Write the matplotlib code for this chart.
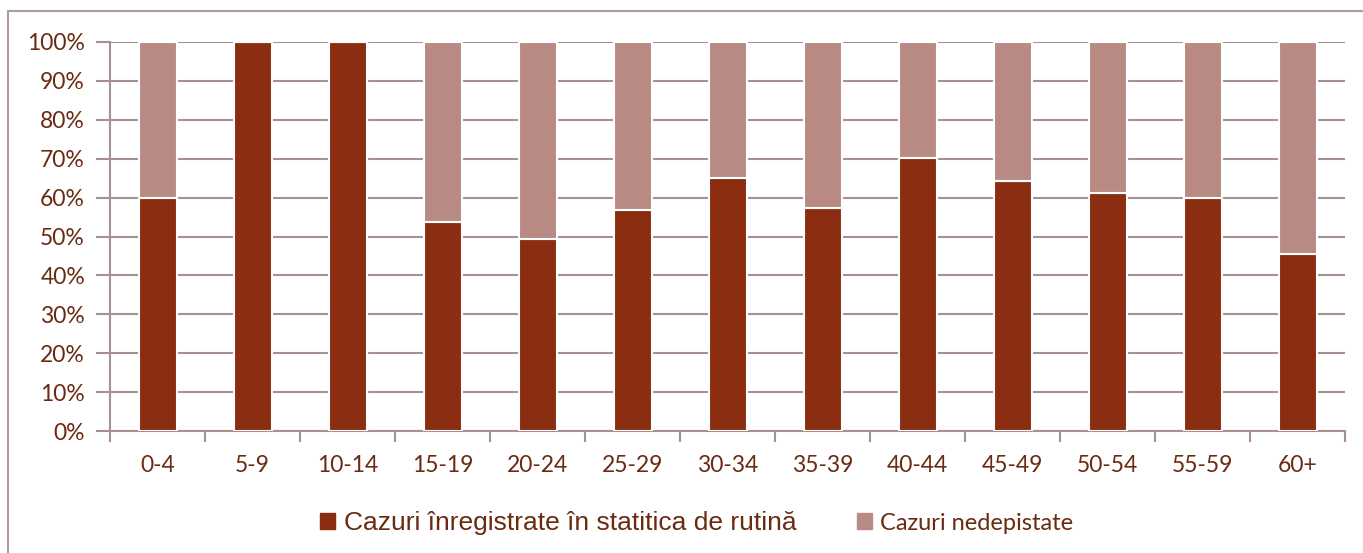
import numpy as np
import matplotlib.pyplot as plt
from matplotlib.patches import Rectangle, Patch

groups = ['0-4', '5-9', '10-14', '15-19', '20-24', '25-29', '30-34',
          '35-39', '40-44', '45-49', '50-54', '55-59', '60+']
inregistrate = [60, 100, 100, 53.7, 49.4, 56.8, 65, 57.3, 70.2, 64.3, 61.2, 60, 45.5]
nedepistate = [100 - v for v in inregistrate]

dark = '#8b2d10'
light = '#b98a83'
txt = '#6b2a12'
gridc = '#a89090'

fig = plt.figure(figsize=(13.63, 5.53), dpi=100)
fig.patches.append(Rectangle((8 / 1363, -0.1), 1.2, 1 - 11 / 553 + 0.1,
                             transform=fig.transFigure, fill=False,
                             edgecolor='#b09c9a', linewidth=1.5))
ax = fig.add_axes([110 / 1363, 1 - 431 / 553, 1235 / 1363, 389 / 553])

x = np.arange(len(groups))
ax.bar(x, inregistrate, width=0.4, color=dark, edgecolor='white', linewidth=1.5, zorder=3)
ax.bar(x, nedepistate, width=0.4, bottom=inregistrate, color=light,
       edgecolor='white', linewidth=1.5, zorder=3)

ax.set_xlim(-0.5, len(groups) - 0.5)
ax.set_ylim(0, 100)
ax.set_yticks(range(0, 101, 10))
ax.set_yticklabels([f'{v}%' for v in range(0, 101, 10)])
ax.set_xticks(x)
ax.set_xticklabels(groups)
ax.set_xticks(np.arange(-0.5, len(groups)), minor=True)
ax.tick_params(axis='x', which='major', length=0, pad=17)
ax.tick_params(axis='x', which='minor', length=8, width=1.5, color=gridc)
ax.tick_params(axis='y', length=10, width=1.5, color=gridc, pad=8)
for lab in ax.get_xticklabels() + ax.get_yticklabels():
    lab.set_fontfamily('Lato')
    lab.set_fontsize(16.5)
    lab.set_color(txt)

ax.yaxis.grid(True, color=gridc, linewidth=1.5, zorder=0)
for s in ['top', 'right']:
    ax.spines[s].set_visible(False)
ax.spines['left'].set_color(gridc)
ax.spines['bottom'].set_color(gridc)
ax.spines['left'].set_linewidth(1.5)
ax.spines['bottom'].set_linewidth(1.5)

handles = [Patch(color=dark, label='Cazuri înregistrate în statitica de rutină'),
           Patch(color=light, label='Cazuri nedepistate')]
leg = fig.legend(handles=handles, loc='center', bbox_to_anchor=(697 / 1363, 1 - 523 / 553),
                 ncol=2, frameon=False, handlelength=0.6, handleheight=0.6,
                 handletextpad=0.35, columnspacing=2.4, fontsize=18)
texts = leg.get_texts()
texts[0].set_fontfamily('Liberation Sans')
texts[0].set_fontsize(19)
texts[1].set_fontfamily('Lato')
texts[1].set_fontsize(17)
for t in texts:
    t.set_color(txt)

fig.savefig('out.png', dpi=100)
